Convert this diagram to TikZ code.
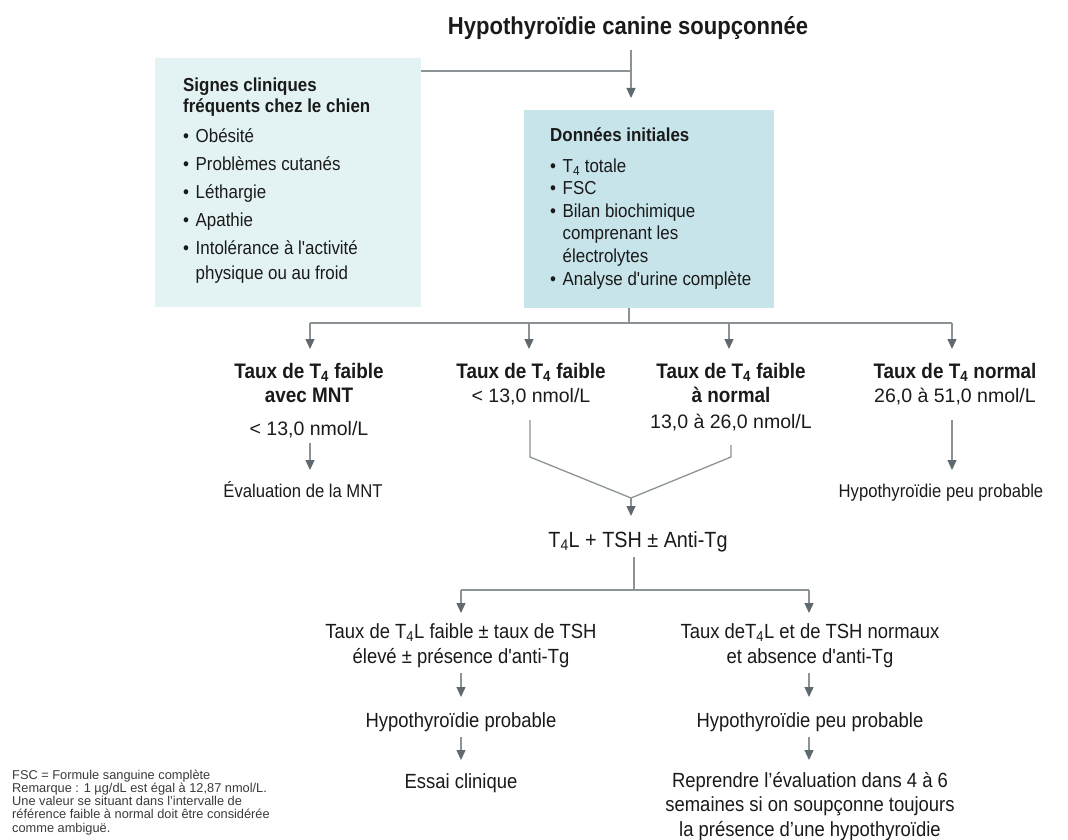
\documentclass[tikz,border=0pt]{standalone}
\usepackage{fontspec}
\setmainfont{Liberation Sans}
\newfontfamily\cf[FakeStretch=0.9]{Liberation Sans}
\usetikzlibrary{arrows.meta}
\definecolor{lboxc}{HTML}{E3F3F4}
\definecolor{rboxc}{HTML}{C6E4EA}
\definecolor{linec}{HTML}{8B9397}
\definecolor{tipc}{HTML}{5F6A70}
\definecolor{txtc}{HTML}{1A1A1A}
\definecolor{notec}{HTML}{3A3A3A}
\newcommand{\bul}{\makebox[12.5pt][l]{\textbullet}}
\newcommand{\ind}{\hspace*{12.5pt}}
\begin{document}
\begin{tikzpicture}[x=1pt,y=-1pt,
  conn/.style={draw=linec, line width=1.3pt},
  arr/.style={conn, -{Triangle[length=10pt,width=9pt,color=tipc]}},
  lbl/.style={inner sep=0pt, anchor=base, align=center, text=txtc},
  titlef/.style={lbl, font=\cf\bfseries\fontsize{24.5}{28}\selectfont},
  hb/.style={lbl, font=\cf\bfseries\fontsize{21}{24}\selectfont},
  val/.style={lbl, font=\fontsize{19.5}{24}\selectfont},
  mid/.style={lbl, font=\cf\fontsize{18.5}{24}\selectfont},
  low/.style={lbl, font=\cf\fontsize{20.5}{24.5}\selectfont},
  boxl/.style={fill=lboxc, inner sep=0pt, anchor=north west},
  boxr/.style={fill=rboxc, inner sep=0pt, anchor=north west},
  listtext/.style={inner sep=0pt, anchor=base west, align=left, text=txtc}
]
\useasboundingbox (0,0) rectangle (1068,840);

% title
\node[titlef] (title) at (628,35) {Hypothyroïdie canine soupçonnée};

% boxes
\node[boxl, minimum width=266pt, minimum height=249pt] (signs) at (155,58) {};
\node[boxr, minimum width=250pt, minimum height=198pt] (init) at (524,110) {};

% multi-line nodes: base anchor = baseline of the last line
\node[listtext, font=\cf\fontsize{18.8}{21}\selectfont] (signstext) at (183,279)
 {{\bfseries Signes cliniques}\\
  {\bfseries fréquents chez le chien}\\[9pt]
  \bul Obésité\\[7pt]
  \bul Problèmes cutanés\\[7pt]
  \bul Léthargie\\[7pt]
  \bul Apathie\\[7pt]
  \bul Intolérance à l'activité\\[3.5pt]
  \ind physique ou au froid};

\node[listtext, font=\cf\fontsize{18.8}{22.6}\selectfont] (inittext) at (550,285)
 {{\bfseries Données initiales}\\[7.5pt]
  \bul T\textsubscript{4} totale\\
  \bul FSC\\
  \bul Bilan biochimique\\
  \ind comprenant les\\
  \ind électrolytes\\
  \bul Analyse d'urine complète};

% junctions
\coordinate (tA) at (631,50);
\coordinate (jTop) at (631,71);
\coordinate (tB) at (631,98);
\draw[conn] (signs.east |- jTop) -- (jTop);
\draw[arr] (tA) -- (tB);

\coordinate (iB) at (629,308);
\coordinate (jRow) at (629,323);
\draw[conn] (iB) -- (jRow);
\coordinate (r1) at (310,323);
\coordinate (r4) at (952,323);
\draw[conn] (r1) -- (r4);
\foreach \xx/\nm in {310/a1,529/a2,729/a3,952/a4}{
  \coordinate (\nm) at (\xx,323);
  \draw[arr] (\nm) -- (\xx,349);
}

% level 2
\node[hb] (hA) at (309,402) {Taux de T\textsubscript{4} faible\\avec MNT};
\node[val] (vA) at (309,435) {< 13,0 nmol/L};
\node[hb] (hB) at (531,378) {Taux de T\textsubscript{4} faible};
\node[val] (vB) at (531,402) {< 13,0 nmol/L};
\node[hb] (hC) at (731,402) {Taux de T\textsubscript{4} faible\\à normal};
\node[val] (vC) at (731,428) {13,0 à 26,0 nmol/L};
\node[hb] (hD) at (955,378) {Taux de T\textsubscript{4} normal};
\node[val] (vD) at (955,402) {26,0 à 51,0 nmol/L};

\node[mid] (eA) at (303,497) {Évaluation de la MNT};
\node[mid] (eD) at (941,497) {Hypothyroïdie peu probable};

\coordinate (aS) at (310,443); \coordinate (aE) at (310,470);
\draw[arr] (aS) -- (aE);
\coordinate (dS) at (952,420); \coordinate (dE) at (952,470);
\draw[arr] (dS) -- (dE);

% merge
\coordinate (bS) at (530,420); \coordinate (bK) at (530,457);
\coordinate (cS) at (731,445); \coordinate (cK) at (731,457);
\coordinate (mJ) at (631,498); \coordinate (mE) at (631,516);
\draw[conn] (bS) -- (bK) -- (mJ) -- (cK) -- (cS);
\draw[arr] (mJ) -- (mE);

\node[lbl, font=\cf\fontsize{22}{26}\selectfont] (tt) at (638,547) {T\textsubscript{4}L + TSH ± Anti-Tg};

\coordinate (tS) at (634,557); \coordinate (tJ) at (634,590);
\draw[conn] (tS) -- (tJ);
\coordinate (eL) at (461,590); \coordinate (eR) at (809,590);
\draw[conn] (eL) -- (eR);
\draw[arr] (eL) -- (461,613);
\draw[arr] (eR) -- (809,613);

% level 3
\node[low] (lE) at (461,663) {Taux de T\textsubscript{4}L faible ± taux de TSH\\élevé ± présence d'anti-Tg};
\node[low] (lF) at (810,663) {Taux deT\textsubscript{4}L et de TSH normaux\\et absence d'anti-Tg};

\coordinate (e1) at (461,673); \coordinate (e2) at (461,697);
\coordinate (f1) at (809,673); \coordinate (f2) at (809,697);
\draw[arr] (e1) -- (e2);
\draw[arr] (f1) -- (f2);

\node[low] (pE) at (461,727) {Hypothyroïdie probable};
\node[low] (pF) at (810,727) {Hypothyroïdie peu probable};

\coordinate (e3) at (461,737); \coordinate (e4) at (461,760);
\coordinate (f3) at (809,737); \coordinate (f4) at (809,760);
\draw[arr] (e3) -- (e4);
\draw[arr] (f3) -- (f4);

\node[low] (xE) at (461,788) {Essai clinique};
\node[low] (xF) at (810,836) {Reprendre l’évaluation dans 4 à 6\\semaines si on soupçonne toujours\\la présence d’une hypothyroïdie};

% footnote
\node[inner sep=0pt, anchor=base west, align=left, text=notec,
      font=\fontsize{12.8}{13.1}\selectfont] (note) at (12,832)
 {FSC = Formule sanguine complète\\
  Remarque : 1 µg/dL est égal à 12,87 nmol/L.\\
  Une valeur se situant dans l'intervalle de\\
  référence faible à normal doit être considérée\\
  comme ambiguë.};
\end{tikzpicture}
\end{document}
